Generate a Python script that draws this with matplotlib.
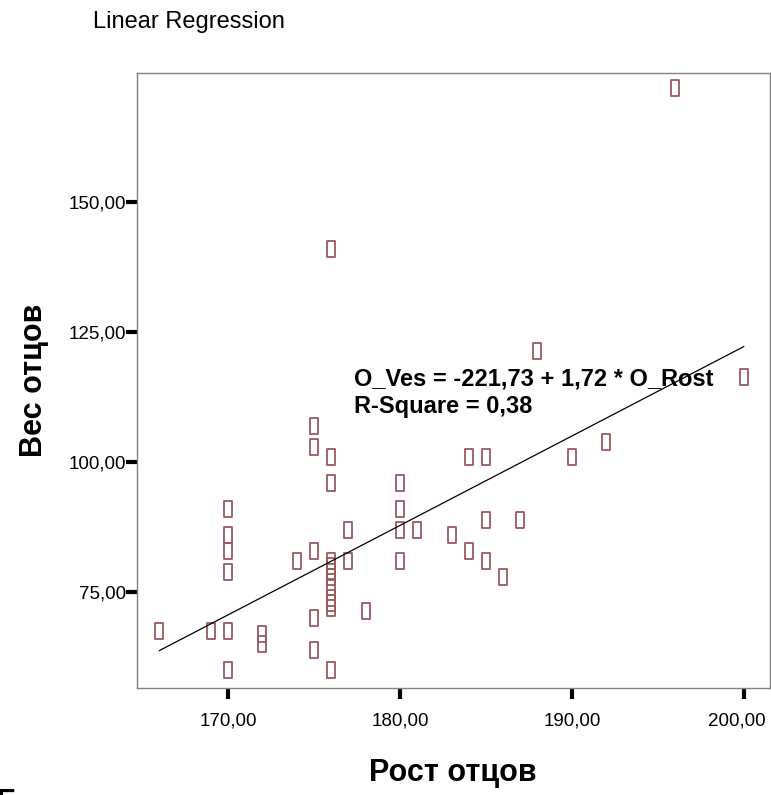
import numpy as np
import matplotlib
matplotlib.use('Agg')
import matplotlib.pyplot as plt
import matplotlib.transforms as mtransforms
from matplotlib.path import Path

plt.rcParams['font.family'] = ['Liberation Sans', 'DejaVu Sans']

# рост и вес отцов
o_rost = [166, 169, 170, 170, 170, 170, 170, 170, 172, 172, 174,
          175, 175, 175, 175, 175,
          176, 176, 176, 176, 176, 176, 176, 176, 176, 176, 176, 176,
          177, 177, 178, 180, 180, 180, 180, 181, 183,
          184, 184, 185, 185, 185, 186, 187, 188, 190, 192, 196, 200]
o_ves = [67.5, 67.5, 67.5, 60, 91, 86, 83, 79, 67, 65, 81,
         107, 103, 83, 70, 64,
         141, 101, 96, 81, 80, 79, 78, 76, 74, 73, 72, 60,
         87, 81, 71.5, 96, 91, 87, 81, 87, 86,
         101, 83, 101, 89, 81, 78, 89, 121.5, 101, 104, 172, 116.5]

b0, b1 = -221.73, 1.72
xticks = [170, 180, 190, 200]
yticks = [75, 100, 125, 150]

fig = plt.figure(figsize=(7.71, 7.95), dpi=100)
ax = fig.add_axes([0.1777, 0.1346, 0.8204, 0.7736])

# маркер - узкий прямоугольник
box = Path([(-0.27, -0.5), (0.27, -0.5), (0.27, 0.5), (-0.27, 0.5), (-0.27, -0.5)],
           [Path.MOVETO, Path.LINETO, Path.LINETO, Path.LINETO, Path.CLOSEPOLY])
ax.plot(o_rost, o_ves, linestyle='none', marker=box, markersize=11,
        markerfacecolor='none', markeredgecolor='#9a5a5e', markeredgewidth=1.3)

xl = np.array([min(o_rost), max(o_rost)])
ax.plot(xl, b0 + b1 * xl, color='black', linewidth=0.9)

ax.text(177.3, 113.4, 'O_Ves = -221,73 + 1,72 * O_Rost\nR-Square = 0,38',
        fontsize=17, fontweight='bold', ha='left', va='center', linespacing=1.3)

ax.set_xlim(164.7, 201.5)
ax.set_ylim(56.6, 174.9)
ax.set_xticks(xticks)
ax.set_xticklabels([f'{v},00' for v in xticks])
ax.set_yticks(yticks)
ax.set_yticklabels([f'{v},00' for v in yticks])
ax.tick_params(axis='both', length=8, width=3, labelsize=13.5)
ax.tick_params(axis='x', pad=10)
ax.tick_params(axis='y', pad=0)
for s in ax.spines.values():
    s.set_color('#808080')
    s.set_linewidth(1)

# последняя подпись чуть левее, чтобы не обрезалась
last = ax.get_xticklabels()[-1]
last.set_transform(last.get_transform() + mtransforms.ScaledTranslation(-5 / 72, 0, fig.dpi_scale_trans))

ax.set_xlabel('Рост отцов', fontsize=22, fontweight='bold', labelpad=20)
ax.set_ylabel('Вес отцов', fontsize=22, fontweight='bold', labelpad=14)

fig.text(0.121, 0.972, 'Linear Regression', fontsize=17, ha='left', va='center')
fig.text(-0.006, -0.03, 'Г', fontsize=24, fontweight='bold', ha='left', va='bottom')

fig.savefig('out.png', dpi=100)
